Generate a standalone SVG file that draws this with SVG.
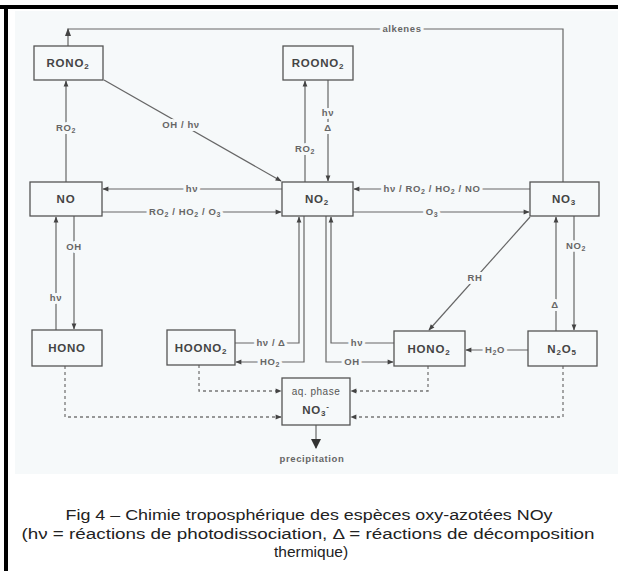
<svg xmlns="http://www.w3.org/2000/svg" width="618" height="571" viewBox="0 0 618 571">
<defs>
<marker id="ah" viewBox="0 0 10 10" refX="9" refY="5" markerWidth="7" markerHeight="6" markerUnits="userSpaceOnUse" orient="auto">
<path d="M0,1 L10,5 L0,9 Z" fill="#444"/>
</marker>
<marker id="big" viewBox="0 0 10 10" refX="9" refY="5" markerWidth="10" markerHeight="10" markerUnits="userSpaceOnUse" orient="auto">
<path d="M0,0 L10,5 L0,10 Z" fill="#333"/>
</marker>
<g id="labels">
<text class="lb" x="402" y="32">alkenes</text>
<text class="lb" x="181" y="128">OH / hν</text>
<text class="lb" x="66" y="131">RO<tspan class="s" dy="2">2</tspan></text>
<text class="lb" x="305" y="152">RO<tspan class="s" dy="2">2</tspan></text>
<text class="lb" x="328" y="116">hν</text>
<text class="lb" x="328" y="131">Δ</text>
<text class="lb" x="192" y="192">hν</text>
<text class="lb" x="185" y="215">RO<tspan class="s" dy="2">2</tspan><tspan dy="-2"> / HO</tspan><tspan class="s" dy="2">2</tspan><tspan dy="-2"> / O</tspan><tspan class="s" dy="2">3</tspan></text>
<text class="lb" x="432" y="192">hν / RO<tspan class="s" dy="2">2</tspan><tspan dy="-2"> / HO</tspan><tspan class="s" dy="2">2</tspan><tspan dy="-2"> / NO</tspan></text>
<text class="lb" x="432" y="215">O<tspan class="s" dy="2">3</tspan></text>
<text class="lb" x="475" y="281">RH</text>
<text class="lb" x="576" y="249">NO<tspan class="s" dy="2">2</tspan></text>
<text class="lb" x="555" y="308">Δ</text>
<text class="lb" x="74" y="250">OH</text>
<text class="lb" x="56" y="301">hν</text>
<text class="lb" x="271" y="346">hν / Δ</text>
<text class="lb" x="270" y="365">HO<tspan class="s" dy="2">2</tspan></text>
<text class="lb" x="357" y="346">hν</text>
<text class="lb" x="352" y="365">OH</text>
<text class="lb" x="495" y="353">H<tspan class="s" dy="2">2</tspan><tspan dy="-2">O</tspan></text>
<text class="lb" x="312" y="462">precipitation</text>
</g>
</defs>
<style>
.box{fill:none;stroke:#555;stroke-width:1.3}
.ln{fill:none;stroke:#666;stroke-width:1.2}
.ds{fill:none;stroke:#777;stroke-width:1.3;stroke-dasharray:3,3}
.nl{font-family:"Liberation Sans",Arial,sans-serif;font-size:11.5px;font-weight:bold;fill:#444;text-anchor:middle;letter-spacing:0.8px}
.aq{font-family:"Liberation Sans",Arial,sans-serif;font-size:10px;font-weight:normal;fill:#555;text-anchor:middle;letter-spacing:0.5px}
.lb{font-family:"Liberation Sans",Arial,sans-serif;font-size:9.5px;font-weight:bold;text-anchor:middle;letter-spacing:0.6px}
.s{font-size:7px}
.halo{fill:#f6f9fa;stroke:#f6f9fa;stroke-width:6px;stroke-linejoin:round}
.txt{fill:#666;stroke:none}
.cap{font-family:"Liberation Sans",Arial,sans-serif;font-size:15.5px;fill:#222;text-anchor:middle}
</style>
<rect x="0" y="0" width="618" height="571" fill="#ffffff"/>
<rect x="15" y="11" width="603" height="463" fill="#f6f9fa"/>
<rect x="0" y="5" width="618" height="4" fill="#000"/>
<rect x="4" y="5" width="4" height="566" fill="#000"/>

<g id="connectors">
<path class="ln" d="M563,182 V29 H68 V46"/>
<path d="M68,28 L65,36 L71,36 Z" fill="#444"/>
<path class="ln" d="M104,80 L281,181" marker-end="url(#ah)"/>
<path class="ln" d="M66,182 V81" marker-end="url(#ah)"/>
<path class="ln" d="M305,182 V81" marker-end="url(#ah)"/>
<path class="ln" d="M328,80 V181" marker-end="url(#ah)"/>
<path class="ln" d="M282,189 H103" marker-end="url(#ah)"/>
<path class="ln" d="M102,212 H281" marker-end="url(#ah)"/>
<path class="ln" d="M530,189 H354" marker-end="url(#ah)"/>
<path class="ln" d="M353,212 H529" marker-end="url(#ah)"/>
<path class="ln" d="M530,217 L429,330" marker-end="url(#ah)"/>
<path class="ln" d="M574,216 V330" marker-end="url(#ah)"/>
<path class="ln" d="M556,331 V217" marker-end="url(#ah)"/>
<path class="ln" d="M74,216 V329" marker-end="url(#ah)"/>
<path class="ln" d="M56,330 V217" marker-end="url(#ah)"/>
<path class="ln" d="M235,343 H299 V217" marker-end="url(#ah)"/>
<path class="ln" d="M304,216 V362 H236" marker-end="url(#ah)"/>
<path class="ln" d="M394,343 H331 V217" marker-end="url(#ah)"/>
<path class="ln" d="M326,216 V362 H393" marker-end="url(#ah)"/>
<path class="ln" d="M528,350 H466" marker-end="url(#ah)"/>
<path class="ds" d="M199,365 V391 H281" marker-end="url(#ah)"/>
<path class="ds" d="M65,366 V417 H281" marker-end="url(#ah)"/>
<path class="ds" d="M428,366 V391 H351" marker-end="url(#ah)"/>
<path class="ds" d="M563,366 V417 H351" marker-end="url(#ah)"/>
<path class="ln" d="M316,425 V448" stroke-width="1.6" marker-end="url(#big)"/>
<use href="#labels" class="halo"/>
<use href="#labels" class="txt"/>
</g>

<g id="RONO2"><rect class="box" x="34" y="46" width="69" height="34"/><text class="nl" x="68" y="67">RONO<tspan dy="2" font-size="8">2</tspan></text></g>
<g id="ROONO2"><rect class="box" x="283" y="46" width="70" height="34"/><text class="nl" x="318" y="67">ROONO<tspan dy="2" font-size="8">2</tspan></text></g>
<g id="NO"><rect class="box" x="30" y="182" width="72" height="34"/><text class="nl" x="66" y="203">NO</text></g>
<g id="NO2"><rect class="box" x="282" y="182" width="71" height="34"/><text class="nl" x="317" y="203">NO<tspan dy="2" font-size="8">2</tspan></text></g>
<g id="NO3"><rect class="box" x="530" y="182" width="69" height="34"/><text class="nl" x="564" y="203">NO<tspan dy="2" font-size="8">3</tspan></text></g>
<g id="HONO"><rect class="box" x="32" y="330" width="70" height="36"/><text class="nl" x="67" y="352">HONO</text></g>
<g id="HOONO2"><rect class="box" x="167" y="330" width="68" height="35"/><text class="nl" x="201" y="352">HOONO<tspan dy="2" font-size="8">2</tspan></text></g>
<g id="HONO2"><rect class="box" x="394" y="331" width="71" height="35"/><text class="nl" x="429" y="353">HONO<tspan dy="2" font-size="8">2</tspan></text></g>
<g id="N2O5"><rect class="box" x="528" y="331" width="69" height="35"/><text class="nl" x="562" y="353">N<tspan dy="2" font-size="8">2</tspan><tspan dy="-2">O</tspan><tspan dy="2" font-size="8">5</tspan></text></g>
<g id="aq"><rect class="box" x="282" y="378" width="68" height="47"/><text class="aq" x="316" y="395">aq. phase</text><text class="nl" x="316" y="414">NO<tspan dy="2" font-size="8">3</tspan><tspan dy="-7" font-size="8">-</tspan></text></g>

<g id="caption">
<text class="cap" x="309" y="520" textLength="487" lengthAdjust="spacingAndGlyphs">Fig 4 – Chimie troposphérique des espèces oxy-azotées NOy</text>
<text class="cap" x="308" y="539" textLength="573" lengthAdjust="spacingAndGlyphs">(hν = réactions de photodissociation, Δ = réactions de décomposition</text>
<text class="cap" x="311" y="557">thermique)</text>
</g>
</svg>
